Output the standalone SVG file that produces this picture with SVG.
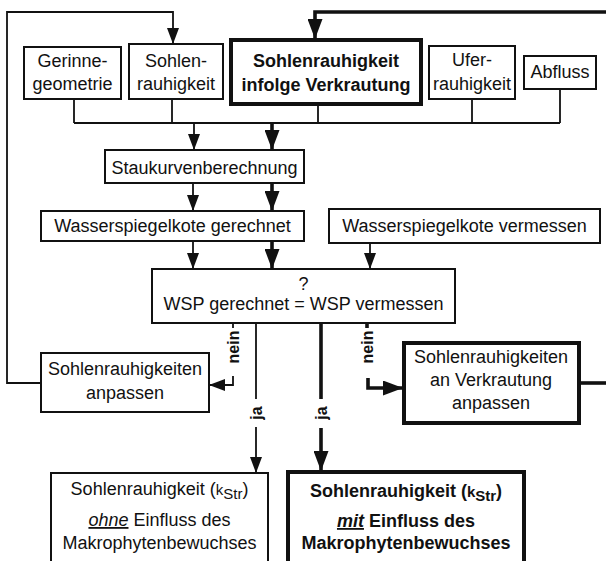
<svg xmlns="http://www.w3.org/2000/svg" width="606" height="561" viewBox="0 0 606 561">
<style>
text{font-family:"Liberation Sans",Arial,sans-serif;font-size:18px;fill:#111;text-anchor:middle}
.b{font-weight:bold}
.box{fill:#fff;stroke:#111;stroke-width:2}
.tbox{fill:#fff;stroke:#111;stroke-width:4}
.ln{fill:none;stroke:#111;stroke-width:1.8}
.tk{fill:none;stroke:#111;stroke-width:3.6}
.lbl{font-size:16px;font-weight:bold}
</style>
<defs>
<marker id="a" markerUnits="userSpaceOnUse" viewBox="0 0 16 12" refX="16" refY="6" markerWidth="16" markerHeight="12" orient="auto"><path d="M0,0 L16,6 L0,12 Z" fill="#111"/></marker>
<marker id="at" markerUnits="userSpaceOnUse" viewBox="0 0 20 15" refX="20" refY="7.5" markerWidth="20" markerHeight="15" orient="auto"><path d="M0,0 L20,7.5 L0,15 Z" fill="#111"/></marker>
</defs>
<rect width="606" height="561" fill="#fff"/>
<g id="connectors">
<path class="ln" d="M41,383 H7 V12 H173 V44" marker-end="url(#a)"/>
<path class="tk" d="M579,383 H606"/>
<path class="tk" d="M606,12 H315 V39" marker-end="url(#at)"/>
<path class="ln" d="M74,99 V123 M172,99 V123 M318,105 V123 M472,99 V123 M560,89 V123 M74,123 H560"/>
<path class="ln" d="M194,123 V150" marker-end="url(#a)"/>
<path class="tk" d="M272,123 V150" marker-end="url(#at)"/>
<path class="ln" d="M193,184 V211" marker-end="url(#a)"/>
<path class="tk" d="M272,184 V211" marker-end="url(#at)"/>
<path class="ln" d="M193,241 V269" marker-end="url(#a)"/>
<path class="tk" d="M272,241 V269" marker-end="url(#at)"/>
<path class="ln" d="M370,243 V269" marker-end="url(#a)"/>
<path class="ln" d="M233,323 V328"/>
<path class="ln" d="M233,376 V385 H209" marker-end="url(#a)"/>
<path class="ln" d="M256,323 V399"/>
<path class="ln" d="M256,427 V473" marker-end="url(#a)"/>
<path class="tk" d="M321,323 V399"/>
<path class="tk" d="M321,428 V471" marker-end="url(#at)"/>
<path class="tk" d="M367,323 V328"/>
<path class="tk" d="M368,378 V388 H403" marker-end="url(#at)"/>
<text class="lbl" transform="translate(239,347) rotate(-90)">nein</text>
<text class="lbl" transform="translate(373,347) rotate(-90)">nein</text>
<text class="lbl" transform="translate(262,413) rotate(-90)">ja</text>
<text class="lbl" transform="translate(327,413) rotate(-90)">ja</text>
</g>
<g id="gerinne"><rect class="box" x="24" y="47" width="97" height="52"/><text x="72.5" y="67">Gerinne-</text><text x="72.5" y="90">geometrie</text></g>
<g id="sohlen"><rect class="box" x="129" y="44" width="94" height="55"/><text x="176" y="67">Sohlen-</text><text x="176" y="90">rauhigkeit</text></g>
<g id="verkrautung"><rect class="tbox" x="231" y="40" width="190" height="64"/><text class="b" x="326" y="67">Sohlenrauhigkeit</text><text class="b" x="326" y="91">infolge Verkrautung</text></g>
<g id="ufer"><rect class="box" x="429" y="46" width="86" height="53"/><text x="472" y="66">Ufer-</text><text x="472" y="90">rauhigkeit</text></g>
<g id="abfluss"><rect class="box" x="524" y="56" width="72" height="33"/><text x="560" y="78">Abfluss</text></g>
<g id="staukurven"><rect class="box" x="105" y="150" width="199" height="33"/><text x="204.5" y="174">Staukurvenberechnung</text></g>
<g id="wsp-gerechnet"><rect class="box" x="41" y="211" width="263" height="30"/><text x="172.5" y="232">Wasserspiegelkote gerechnet</text></g>
<g id="wsp-vermessen"><rect class="box" x="329" y="209" width="271" height="34"/><text x="464.5" y="232">Wasserspiegelkote vermessen</text></g>
<g id="vergleich"><rect class="box" x="152" y="269" width="303" height="54"/><text x="303.5" y="290">?</text><text x="303.5" y="310">WSP gerechnet = WSP vermessen</text></g>
<g id="anpassen"><rect class="box" x="41" y="353" width="168" height="59"/><text x="125" y="375">Sohlenrauhigkeiten</text><text x="125" y="399">anpassen</text></g>
<g id="anpassen-verkrautung"><rect class="tbox" x="404" y="343" width="175" height="80"/><text x="491" y="363">Sohlenrauhigkeiten</text><text x="491" y="386">an Verkrautung</text><text x="491" y="409">anpassen</text></g>
<g id="ohne"><rect class="box" x="51" y="473" width="217" height="100"/><text x="159.5" y="495">Sohlenrauhigkeit (<tspan font-size="15">k</tspan><tspan font-size="15" dy="4">Str</tspan><tspan dy="-4">)</tspan></text><text x="159.5" y="526"><tspan font-style="italic" text-decoration="underline">ohne</tspan> Einfluss des</text><text x="159.5" y="549">Makrophytenbewuchses</text></g>
<g id="mit"><rect class="tbox" x="288" y="472" width="236" height="100"/><text class="b" x="406" y="497">Sohlenrauhigkeit (<tspan font-size="15">k</tspan><tspan font-size="15" dy="4">Str</tspan><tspan dy="-4">)</tspan></text><text class="b" x="406" y="527"><tspan font-style="italic" text-decoration="underline">mit</tspan> Einfluss des</text><text class="b" x="406" y="549">Makrophytenbewuchses</text></g>
</svg>
